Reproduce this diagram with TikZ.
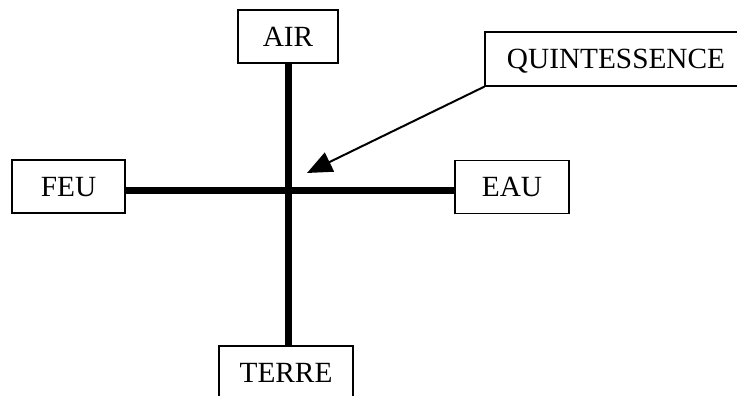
\documentclass[tikz,border=0pt]{standalone}
\usepackage{fontspec}
\setmainfont{Liberation Serif}
\usetikzlibrary{arrows.meta}
\begin{document}
\begin{tikzpicture}[x=1pt,y=-1pt,
  elem/.style={draw=black,line width=1.3pt,fill=white,inner sep=0pt,
    minimum height=53pt,text height=19.4pt,text depth=0pt,
    font=\fontsize{29.3}{32}\selectfont},
  axis/.style={line width=7pt},
  pointer/.style={line width=2pt,-{Triangle[length=25pt,width=21pt]}}]
\useasboundingbox (0,0) rectangle (737,396);
\clip (0,0) rectangle (737,396);
% crossing point of the two axes
\coordinate (c) at (288.5,190);
\coordinate (tip) at (307,173);
% the five elements
\node[elem,minimum width=100pt] (air) at (288,36.5) {AIR};
\node[elem,minimum width=113pt] (feu) at (68.5,186.5) {FEU};
\node[elem,minimum width=114pt] (eau) at (512,187) {EAU};
\node[elem,minimum width=134pt] (terre) at (286,372.5) {TERRE};
\node[elem,minimum width=262pt,minimum height=54pt] (quint) at (616,59) {QUINTESSENCE};
% the cross
\draw[axis] (air.south -| c) -- (terre.north -| c);
\draw[axis] (feu.east |- c) -- (eau.west |- c);
% arrow towards the centre
\draw[pointer] (quint.south west) -- (tip);
\end{tikzpicture}
\end{document}
